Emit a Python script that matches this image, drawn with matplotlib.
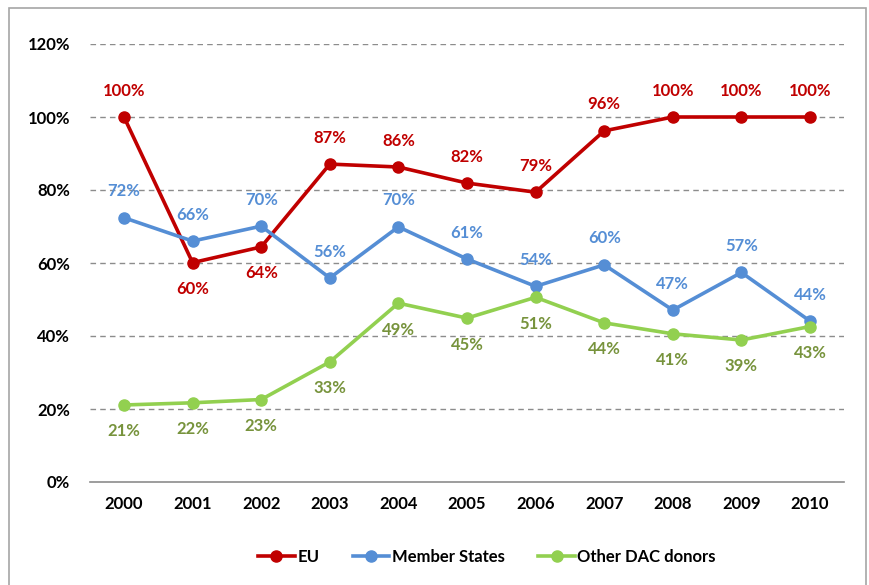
import matplotlib
matplotlib.use("Agg")
import matplotlib.pyplot as plt
from matplotlib.patches import Rectangle
from matplotlib.lines import Line2D

years = ["2000", "2001", "2002", "2003", "2004", "2005", "2006", "2007", "2008", "2009", "2010"]
eu = [100, 60.1, 64.4, 87.1, 86.3, 81.9, 79.4, 96.2, 100, 100, 100]
member_states = [72.4, 66.0, 70.1, 55.9, 69.9, 61.1, 53.6, 59.5, 47.1, 57.4, 44.1]
other_dac = [21.1, 21.7, 22.6, 32.9, 49.0, 44.9, 50.6, 43.6, 40.6, 38.9, 42.6]
yticks = [0, 20, 40, 60, 80, 100, 120]

# label placement: +1 above, -1 below
eu_pos = [1, -1, -1, 1, 1, 1, 1, 1, 1, 1, 1]
ms_pos = [1] * 11
od_pos = [-1] * 11

FONT = "Lato"
W, H = 869, 585
fig = plt.figure(figsize=(W / 100, H / 100), dpi=100)
ax = fig.add_axes([89.7 / W, 1 - 482 / H, (844.3 - 89.7) / W, (482 - 44) / H])

x = list(range(len(years)))
series = [
    ("EU", eu, "#C00000", "#C00000", eu_pos),
    ("Member States", member_states, "#558ED5", "#558ED5", ms_pos),
    ("Other DAC donors", other_dac, "#92D050", "#77933C", od_pos),
]
for name, vals, col, lcol, pos in series:
    ax.plot(x, vals, color=col, lw=2.6, marker="o", ms=8, label=name, zorder=3)
    for xi, v, p in zip(x, vals, pos):
        ax.annotate(f"{round(v):d}%", (xi, v), xytext=(0, 19 * p), textcoords="offset points",
                    ha="center", va="center", color=lcol, fontsize=12,
                    fontweight="bold", family=FONT)

ax.set_xlim(-0.5, len(years) - 0.5)
ax.set_ylim(0, 120)
ax.set_yticks(yticks)
ax.set_yticklabels([f"{t}%" for t in yticks], fontsize=12, fontweight="bold", family=FONT)
ax.set_xticks(x)
ax.set_xticklabels(years, fontsize=12, fontweight="bold", family=FONT)
ax.tick_params(axis="both", length=0, pad=10)
ax.tick_params(axis="y", pad=14)
for t in yticks[1:]:
    ax.axhline(t, color="#8C8C8C", lw=1, ls=(0, (4, 3)), zorder=1)
for s in ["top", "right", "left"]:
    ax.spines[s].set_visible(False)
ax.spines["bottom"].set_color("#8C8C8C")
ax.spines["bottom"].set_linewidth(1.2)

handles = [Line2D([0], [0], color=c, lw=2.6, marker="o", ms=8) for _, _, c, _, _ in series]
leg = fig.legend(handles, [s[0] for s in series], loc="center", bbox_to_anchor=(487 / W, 1 - 557 / H),
                 ncol=3, frameon=False, handlelength=2.2, handletextpad=0.15, columnspacing=2.0,
                 prop={"family": FONT, "weight": "bold", "size": 12})

fig.patches.append(Rectangle((8.5 / W, -0.05), (866 - 8.5) / W, 1.05 - 7.5 / H, transform=fig.transFigure,
                             fill=False, edgecolor="#A6A6A6", lw=1.2))
fig.savefig("out.png", dpi=100)
